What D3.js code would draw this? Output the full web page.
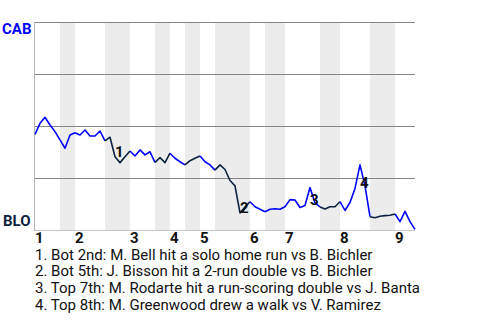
<!DOCTYPE html>
<html><head><meta charset="utf-8">
<script src="https://cdn.jsdelivr.net/npm/d3@7"></script>
<style>body{margin:0;background:#fff}svg{display:block;font-family:Roboto,"Liberation Sans",sans-serif}</style>
</head><body><svg id="c" width="480" height="320"></svg>
<script>
// CAB win probability (%) after each plate appearance
const winProb = [46.0,51.3,54.2,50.5,47.3,43.3,39.3,45.7,46.8,45.7,48.1,45.2,45.2,47.6,42.8,44.6,
  35.2,32.4,35.2,38.0,35.6,38.5,36.1,37.6,32.5,34.8,32.4,36.9,34.5,32.8,31.3,33.3,34.5,35.6,32.8,31.3,
  28.8,31.3,29.1,23.8,21.2,8.2,11.1,13.6,11.2,10.0,8.8,10.0,10.2,10.0,11.2,14.6,14.4,10.8,11.8,20.4,
  13.0,11.1,10.1,11.2,11.2,13.6,9.4,13.2,20.0,31.3,21.2,6.4,5.9,6.6,6.9,7.1,7.7,4.0,9.0,4.0,0.3];
// half innings: plate appearances and line colour team
const halfLabels = ["T1","B1","T2","B2","T3","B3","T4","B4","T5","B5","T6","B6","T7","B7","T8","B8","T9"];
const halfPlays  = [5,3,6,5,5,3,3,3,3,7,3,4,7,4,6,5,4];
const halfTeam   = ["CAB","CAB","CAB","BLO","CAB","BLO","CAB","BLO","CAB","BLO","CAB","CAB","CAB","BLO","CAB","BLO","CAB"];
const innings = ["1","2","3","4","5","6","7","8","9"];
const teams = ["CAB","BLO"];
const teamColors = {CAB:"#0000ff", BLO:"#0c2340"};
const eventIdx = [16,41,55,65];
const eventText = [
  "1. Bot 2nd: M. Bell hit a solo home run vs B. Bichler",
  "2. Bot 5th: J. Bisson hit a 2-run double vs B. Bichler",
  "3. Top 7th: M. Rodarte hit a run-scoring double vs J. Banta",
  "4. Top 8th: M. Greenwood drew a walk vs V. Ramirez"];
const gridVals = [25,50,75,100];

const svg = d3.select("#c");
const N = winProb.length - 1;
const x = d3.scaleLinear().domain([0,N]).range([35,415]);
const y = d3.scaleLinear().domain([0,100]).range([230,22]);

// half-inning boundaries
const starts = []; let acc = 0;
halfPlays.forEach(n => { starts.push(acc); acc += n; });
const halves = halfLabels.map((l,i)=>({label:l, start:starts[i], end:starts[i]+halfPlays[i], team:halfTeam[i]}));

svg.append("g").selectAll("rect").data(halves.filter(h=>h.label[0]==="B")).join("rect")
  .attr("x", d=>x(d.start)).attr("width", d=>x(d.end)-x(d.start))
  .attr("y", y(100)).attr("height", y(0)-y(100)).attr("fill","#ececec");

svg.append("g").selectAll("line").data(gridVals).join("line")
  .attr("x1", x(0)).attr("x2", x(N)).attr("y1", d=>Math.round(y(d))+0.5).attr("y2", d=>Math.round(y(d))+0.5)
  .attr("stroke","#858585").attr("stroke-width",1);
svg.append("line").attr("x1",x(0)).attr("x2",x(N)).attr("y1",y(0)+0.5).attr("y2",y(0)+0.5).attr("stroke","#c4c4c4");
svg.append("line").attr("x1",x(0)-0.5).attr("x2",x(0)-0.5).attr("y1",y(100)).attr("y2",y(0)+1).attr("stroke","#b4b4b4");

// line segments per half inning
const line = d3.line().x(d=>x(d.i)).y(d=>y(d.p));
const pts = winProb.map((p,i)=>({i,p}));
svg.append("g").selectAll("path").data(halves).join("path")
  .attr("d", h => line(pts.slice(h.start, h.end+1)))
  .attr("fill","none").attr("stroke", h=>teamColors[h.team]).attr("stroke-width",1.6)
  .attr("stroke-linejoin","round");

// event markers
svg.append("g").selectAll("text").data(eventIdx).join("text")
  .attr("x", d=>x(d)).attr("y", d=>y(Math.min(winProb[d-1],winProb[d])))
  .attr("font-size",15).attr("font-weight","bold").attr("fill","#111")
  .text((d,i)=>i+1);

// team labels
svg.append("text").attr("x",2).attr("y",y(100)+12).attr("font-size",15).attr("font-weight","bold")
  .attr("fill",teamColors.CAB).text(teams[0]);
svg.append("text").attr("x",3).attr("y",y(0)-4).attr("font-size",15).attr("font-weight","bold")
  .attr("fill",teamColors.BLO).text(teams[1]);

// inning labels
const topHalves = halves.filter(h=>h.label[0]==="T");
svg.append("g").selectAll("text").data(innings).join("text")
  .attr("x",(d,i)=>x(topHalves[i].start)).attr("y",243)
  .attr("font-size",15).attr("font-weight","bold").attr("fill","#111").text(d=>d);

// event descriptions
svg.append("g").selectAll("text").data(eventText).join("text")
  .attr("x",35).attr("y",(d,i)=>259.5+i*16.7).attr("font-size",15).attr("fill","#111").text(d=>d);
</script></body></html>
